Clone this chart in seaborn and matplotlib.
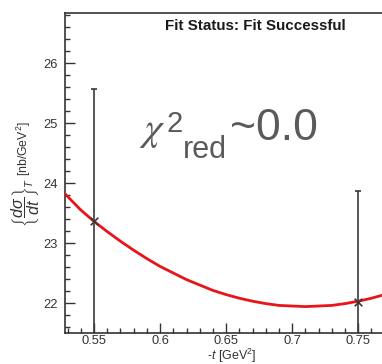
import matplotlib
matplotlib.use("Agg")
import matplotlib.pyplot as plt
import seaborn as sns
import pandas as pd
from matplotlib.ticker import MultipleLocator

# data points
t_points = [0.55, 0.75]
xsec_points = [23.36, 22.01]
xsec_errors = [2.20, 1.86]

# fit curve
t_curve = [0.528, 0.54, 0.55, 0.56, 0.57, 0.58, 0.59, 0.60, 0.61, 0.62, 0.63,
           0.64, 0.65, 0.66, 0.67, 0.68, 0.69, 0.70, 0.71, 0.72, 0.73, 0.74,
           0.75, 0.76, 0.77]
xsec_curve = [23.82, 23.55, 23.36, 23.19, 23.03, 22.88, 22.74, 22.61, 22.50,
              22.39, 22.30, 22.21, 22.14, 22.08, 22.03, 21.99, 21.96, 21.95,
              21.94, 21.95, 21.96, 21.99, 22.03, 22.08, 22.14]

y_ticks = [22, 23, 24, 25, 26]
x_ticks = [0.55, 0.6, 0.65, 0.7, 0.75]
x_tick_labels = ["0.55", "0.6", "0.65", "0.7", "0.75"]

status_text = "Fit Status: Fit Successful"
chi_symbol = r"$\chi$"
chi_sup = "2"
chi_sub = "red"
chi_value = "~0.0"
xlabel = r"-$t$ [GeV$^{2}$]"
ylabel_quantity = r"$\left\{\dfrac{d\sigma}{dt}\right\}_{T}$"
ylabel_unit = r"[nb/GeV$^{2}$]"

sns.set_style("white")
plt.rcParams["font.family"] = ["Liberation Sans", "DejaVu Sans"]
plt.rcParams["mathtext.fontset"] = "custom"
plt.rcParams["mathtext.rm"] = "Liberation Sans"
plt.rcParams["mathtext.it"] = "Liberation Sans:italic"
plt.rcParams["mathtext.bf"] = "Liberation Sans:bold"

W, H = 382, 364
fig = plt.figure(figsize=(W / 100, H / 100), dpi=100)
ax = fig.add_axes([65 / W, 1 - 333 / H, 1 - 65 / W, (333 - 12.7) / H])

curve_df = pd.DataFrame({"t": t_curve, "xsec": xsec_curve})
pts_df = pd.DataFrame({"t": t_points, "xsec": xsec_points, "err": xsec_errors})

ax.errorbar(pts_df["t"], pts_df["xsec"], yerr=pts_df["err"], fmt="none",
            ecolor="#3a3a3a", elinewidth=1.2, capsize=2.5, capthick=1.2, zorder=2)
sns.lineplot(data=curve_df, x="t", y="xsec", ax=ax, color="#e8141a",
             linewidth=2.0, sort=True, zorder=3)
sns.scatterplot(data=pts_df, x="t", y="xsec", ax=ax, marker="x", s=30,
                color="#3a3a3a", linewidth=1.2, zorder=4)

ax.set_xlim(0.528, 0.768)
ax.set_ylim(21.5, 26.84)
ax.set_xticks(x_ticks)
ax.set_xticklabels(x_tick_labels)
ax.set_yticks(y_ticks)
ax.xaxis.set_minor_locator(MultipleLocator(0.01))
ax.yaxis.set_minor_locator(MultipleLocator(0.2))
ax.tick_params(which="major", direction="in", length=7.5, width=1.0,
               color="#333333", labelsize=9.3, labelcolor="#333333", pad=5)
ax.tick_params(which="minor", direction="in", length=3.8, width=1.0,
               color="#333333")
ax.tick_params(axis="x", which="major", pad=1.5)
ax.tick_params(left=True, bottom=True, which="both")
ax.set_xlabel("")
ax.set_ylabel("")
for side in ["left", "bottom", "top"]:
    ax.spines[side].set_color("#333333")
    ax.spines[side].set_linewidth(1.2)
ax.spines["right"].set_visible(False)

fig.text(255 / W, 1 - 26 / H, status_text, ha="center", va="center",
         fontsize=10.9, fontweight="bold", color="#1a1a1a")

gray = "#5a5a5a"
fig.text(139 / W, 1 - 140 / H, chi_symbol, ha="left", va="baseline",
         fontsize=29, color=gray, math_fontfamily="stix")
fig.text(167 / W, 1 - 132 / H, chi_sup, ha="left", va="baseline",
         fontsize=21, color=gray)
fig.text(183 / W, 1 - 158 / H, chi_sub, ha="left", va="baseline",
         fontsize=22, color=gray)
fig.text(230 / W, 1 - 140 / H, chi_value, ha="left", va="baseline",
         fontsize=32, color=gray)

fig.text(257 / W, 1 - 356 / H, xlabel, ha="right", va="center",
         fontsize=9.0, color="#333333")
fig.text(26 / W, 1 - 202 / H, ylabel_quantity, ha="center", va="center",
         rotation=90, fontsize=11.5, color="#333333")
fig.text(24 / W, 1 - 149 / H, ylabel_unit, ha="center", va="center",
         rotation=90, fontsize=8.8, color="#333333")

fig.savefig("out.png", dpi=100)
